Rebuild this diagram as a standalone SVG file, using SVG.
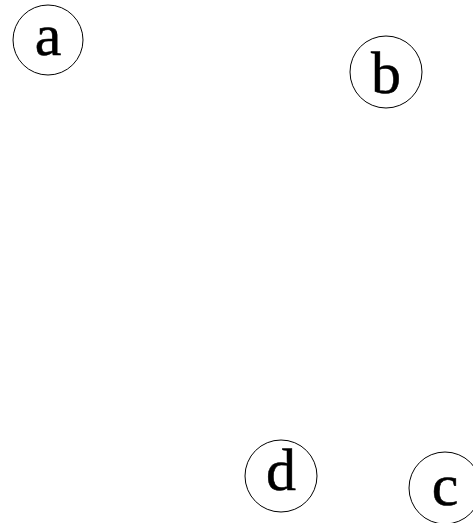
<svg xmlns="http://www.w3.org/2000/svg" width="473" height="523" viewBox="0 0 473 523">
<style>
.n circle{fill:none;stroke:#000;stroke-width:1}
.n text{font-size:60px;text-anchor:middle;fill:#000;stroke:#000;stroke-width:0.5}
</style>
<rect width="473" height="523" fill="#fff"/>
<g id="connectors"></g>
<g id="node-a" class="n"><circle cx="48" cy="40" r="35"/><text x="48" y="55" font-family="Liberation Serif, serif">a</text></g>
<g id="node-b" class="n"><circle cx="386" cy="72" r="36"/><text x="386" y="93" font-family="Liberation Serif, serif">b</text></g>
<g id="node-d" class="n"><circle cx="281" cy="476" r="36"/><text x="281" y="490" font-family="Liberation Serif, serif">d</text></g>
<g id="node-c" class="n"><circle cx="445" cy="488" r="36"/><text x="445" y="505" font-family="Liberation Serif, serif">c</text></g>
</svg>
